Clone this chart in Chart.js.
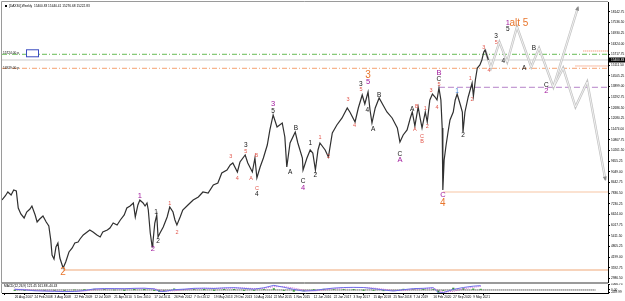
<!DOCTYPE html>
<html>
<head>
<title>DAX30 Weekly</title>
<style>
  body { margin: 0; padding: 0; background: #ffffff; }
  #wrap { position: relative; width: 625px; height: 301px; background: #ffffff; overflow: hidden; }
  #main { position: absolute; left: 0; top: 0; }
  #macd { position: absolute; left: 0; top: 283px; }
</style>
</head>
<body>
<div id="wrap">
  <canvas id="main" width="625" height="283" style="width:625px;height:283px"></canvas>
  <canvas id="macd" width="625" height="18" style="width:625px;height:18px"></canvas>
</div>
<script src="https://cdn.jsdelivr.net/npm/chart.js"></script>
<script>
// weekly bar index (0 = 26 Aug 2007) and price
var priceWeek = [
  0,5,9,14,18,22,25,29,34,38,
  43,46,51,54,58,63,68,72,75,77,
  80,83,86,89,94,98,103,108,112,117,
  120,125,131,135,140,146,151,155,162,166,
  171,177,182,188,192,197,202,205,209,212,
  217,220,223,225,228,231,232,235,238,240,
  243,248,254,258,263,266,269,274,278,286,
  294,302,309,317,325,332,338,346,351,355,
  362,366,374,378,385,389,392,397,402,408,
  412,417,423,431,435,438,443,451,455,462,
  463,469,474,478,482,486,489,497,502,508,
  515,523,531,535,543,548,554,558,563,566,
  569,574,580,586,592,600,608,612,617,623,
  628,631,635,640,643,646,651,654,658,662,
  666,669,672,675,677,678,680,683,686,689,
  694,697,700,705,708,709,712,717,720,723,
  725,728,731,735,738,741,743,746,748
];
var priceValue = [
  7450,7677,7904,7734,8018,7961,6995,6655,6428,6768,
  6939,7109,6598,6200,6371,6541,6200,5973,5178,4326,
  4099,4781,5008,4156,3588,3929,4497,4724,5008,5065,
  5235,5462,5632,5746,5632,5462,5349,5632,5746,5860,
  6144,6030,6314,6598,6995,7109,7279,6484,7166,7450,
  7279,7109,7279,6882,5576,4781,5008,6144,6598,5349,
  5576,5916,6484,7052,6768,6314,6030,6484,6882,7166,
  7450,7620,7904,7847,8302,8415,8983,9153,9437,9551,
  9040,9608,10005,9551,9040,9835,8699,9324,9835,10573,
  11425,12277,11595,11823,11027,9324,10687,11311,10687,9835,
  9153,9835,10289,10119,9153,10289,10687,10289,9892,11255,
  11709,12107,12674,12447,11879,12674,13413,12902,13583,12561,
  11823,12674,13242,12845,12447,12107,11539,10744,11141,11425,
  12107,12447,11652,12731,12107,11539,12447,11879,13129,13469,
  13299,13129,13810,13129,11539,8018,9721,10573,11311,11993,
  12447,13129,13469,12845,12447,11311,12447,13299,13697,14094,
  13356,14265,14946,15116,15400,15855,15968,15627,15400
];

// projected paths (main count and alternative)
var projWeek = [743, 752, 765, 777, 792, 814, 826, 848, 886];
var projValue = [15968, 14946, 16423, 15287, 17274, 15003, 16082, 13867, 18410];
var altWeek = [848, 863, 882, 900, 928];
var altValue = [13867, 14946, 12731, 14151, 8586];

// horizontal levels: value and first week
var levelValue = [15724, 15400, 14929, 13850, 7904, 3474, 15911, 15060];
var levelStart = [0, 0, 0, 672, 678, 94, 894, 882];

// wave labels
var waveText = ['2','1','2','1','2','1','2','3','4','3','5','A','B','C','4','3','5','A','B','C','4','1','2','1','2','3','4','3','5','4','3','5','A','B','C','A','A','B','A','C','B','1','2','3','4','5','C','B','C','4','1','2','1','2','3','4','3','5','4','1','5','alt 5','A','B','C','2'];
var waveWeek = [94,212,232,237,240,258,269,352,362,375,375,383,391,392,392,417,417,443,452,463,463,474,482,489,502,532,542,552,552,562,563,563,571,580,612,612,631,638,635,646,646,651,654,660,669,672,672,672,678,678,700,709,720,723,741,749,760,760,771,778,778,795,803,818,837,837];
var wavePrice = [3361,7677,4667,6768,5121,7279,5632,9892,8699,10573,10176,8699,10005,8131,7790,12902,12504,9040,11539,8529,8131,10687,8869,11027,9892,13129,11709,14037,13753,12561,14548,14151,11482,13413,10062,9721,12617,12788,11482,11084,10800,12674,11652,13640,12731,14037,14321,14662,7734,7279,13640,11141,14378,13185,16082,14832,16763,16366,15344,17502,17161,17502,14946,16082,13981,13640];
var waveKind = ['o','p','p','k','k','r','r','r','r','k','r','r','r','r','k','p','k','k','k','k','p','k','k','r','r','r','r','k','r','k','o','p','k','k','k','p','k','r','r','r','r','r','r','r','r','r','k','p','p','o','b','k','r','r','r','r','k','r','k','p','k','o','k','k','k','p'];

// price axis labels
var yTicks = [18142.75,17536.50,16930.25,16324.00,15717.75,15111.50,14505.25,13899.00,13292.75,12686.50,12080.25,11474.00,10867.75,10261.50,9655.25,9049.00,8442.75,7836.50,7230.25,6624.00,6017.75,5411.50,4805.25,4199.00,3592.75,2986.50];

// date axis labels
var dateWeek = [0,32,64,96,128,160,192,224,256,288,320,352,384,416,448,480,512,544,576,608,640,672,704,736];
var dateLabels = ['26 Aug 2007','24 Feb 2008','3 Aug 2008','22 Feb 2009','12 Jul 2009','21 Apr 2010','5 Dec 2010','17 Jul 2011','26 Feb 2012','7 Oct 2012','19 May 2013','29 Dec 2013','10 Aug 2014','22 Mar 2015','1 Nov 2015','12 Jun 2016','22 Jan 2017','3 Sep 2017','15 Apr 2018','25 Nov 2018','7 Jul 2019','16 Feb 2020','27 Sep 2020','9 May 2021'];

// MACD panel
var macdWeek = [0,16,32,48,64,80,96,112,128,144,160,176,192,208,224,232,240,256,272,288,304,320,336,352,368,384,400,416,432,448,464,480,496,512,528,544,560,576,592,608,624,640,656,672,680,688,704,720,736,748];
var macdMain = [120,20,-150,-200,-250,-300,-280,-100,200,260,250,230,300,320,200,-250,-280,50,150,300,330,280,380,420,300,150,400,850,500,100,-220,-100,150,350,450,480,450,250,0,-200,50,250,300,420,-520,-480,100,450,700,800];
var macdSignal = [150,100,-50,-150,-200,-260,-280,-200,50,200,250,240,270,300,260,0,-200,-150,50,220,300,300,320,380,360,250,300,600,620,350,-50,-200,0,250,380,450,460,350,150,-100,-100,120,250,350,-100,-400,-250,200,500,650];
var macdHist = [-30,-80,-100,-50,-50,-40,0,100,150,60,0,-10,30,20,-60,-250,-80,200,100,80,30,-20,60,40,-60,-100,100,250,-120,-250,-170,100,150,100,70,30,-10,-100,-150,-100,150,130,50,70,-420,-80,350,250,200,150];
var macdTicks = [1066.75, 0.00, -439.99];

var xMax = 932;
var yMin = 2736, yMax = 18693;

var waveStyles = {
  k: { color: '#151515', size: 6.5 },
  r: { color: '#e2574c', size: 5.5 },
  p: { color: '#a0189c', size: 7.5 },
  o: { color: '#e8762d', size: 10 },
  b: { color: '#3b7fd9', size: 6.5 }
};
var levelStyles = [
  { color: '#66bb55', dash: [5, 2, 1, 2], width: 1 },
  { color: '#cccccc', dash: [], width: 1 },
  { color: '#f4a070', dash: [5, 2, 1, 2], width: 1 },
  { color: '#b583c8', dash: [6, 3], width: 1 },
  { color: '#f7c6a4', dash: [], width: 1.2 },
  { color: '#f0a878', dash: [], width: 1.2 },
  { color: '#f07a4a', dash: [1, 1], width: 1 },
  { color: '#f07a4a', dash: [1, 1], width: 1 }
];

function pts(xs, ys) {
  var out = [];
  for (var i = 0; i < xs.length; i++) out.push({ x: xs[i], y: ys[i] });
  return out;
}

var datasets = [];
datasets.push({ data: pts(priceWeek, priceValue), borderColor: '#303030', borderWidth: 1.2, pointRadius: 0, tension: 0 });
// projection drawn as light double line
datasets.push({ data: pts(projWeek, projValue), borderColor: '#fbfbfb', borderWidth: 0.8, pointRadius: 0 });
datasets.push({ data: pts(altWeek, altValue), borderColor: '#fbfbfb', borderWidth: 0.8, pointRadius: 0 });
datasets.push({ data: pts(projWeek, projValue), borderColor: '#c4c4c4', borderWidth: 2.4, pointRadius: 0 });
datasets.push({ data: pts(altWeek, altValue), borderColor: '#c4c4c4', borderWidth: 2.4, pointRadius: 0 });
for (var i = 0; i < levelValue.length; i++) {
  datasets.push({
    data: [{ x: levelStart[i], y: levelValue[i] }, { x: xMax, y: levelValue[i] }],
    borderColor: levelStyles[i].color, borderDash: levelStyles[i].dash,
    borderWidth: levelStyles[i].width, pointRadius: 0
  });
}

function arrowHead(ctx, xs, ys, xsc, ysc) {
  var n = xs.length;
  var x1 = xsc.getPixelForValue(xs[n - 2]), y1 = ysc.getPixelForValue(ys[n - 2]);
  var x2 = xsc.getPixelForValue(xs[n - 1]), y2 = ysc.getPixelForValue(ys[n - 1]);
  var a = Math.atan2(y2 - y1, x2 - x1);
  ctx.save();
  ctx.translate(x2, y2);
  ctx.rotate(a);
  ctx.fillStyle = '#8a8a8a';
  ctx.beginPath();
  ctx.moveTo(1, 0);
  ctx.lineTo(-3.5, -2);
  ctx.lineTo(-3.5, 2);
  ctx.closePath();
  ctx.fill();
  ctx.restore();
}

var mainOverlay = {
  id: 'mainOverlay',
  afterDraw: function(chart) {
    var ctx = chart.ctx, a = chart.chartArea;
    var xs = chart.scales.x, ys = chart.scales.y;
    ctx.save();
    // frame
    ctx.strokeStyle = '#9a9a9a';
    ctx.lineWidth = 1;
    ctx.beginPath();
    ctx.moveTo(a.left - 0.5, a.bottom + 0.5);
    ctx.lineTo(a.left - 0.5, a.top - 0.5);
    ctx.lineTo(a.right, a.top - 0.5);
    ctx.moveTo(a.left - 0.5, a.bottom - 0.5);
    ctx.lineTo(a.right, a.bottom - 0.5);
    ctx.stroke();

    arrowHead(ctx, projWeek, projValue, xs, ys);
    arrowHead(ctx, altWeek, altValue, xs, ys);

    // wave labels
    ctx.textAlign = 'center';
    ctx.textBaseline = 'middle';
    for (var i = 0; i < waveText.length; i++) {
      var st = waveStyles[waveKind[i]];
      ctx.font = st.size + 'px "Liberation Sans", Arial, sans-serif';
      ctx.fillStyle = st.color;
      ctx.fillText(waveText[i], xs.getPixelForValue(waveWeek[i]), ys.getPixelForValue(wavePrice[i]));
    }

    // title
    ctx.textAlign = 'left';
    ctx.textBaseline = 'middle';
    ctx.fillStyle = '#000';
    ctx.fillRect(a.left + 3, a.top + 3, 2, 2);
    ctx.font = '3.2px "Liberation Sans", Arial, sans-serif';
    ctx.fillText('[DAX30],Weekly  15400.83 15440.41 15276.68 15222.83', a.left + 7, a.top + 4);

    // level captions on the left
    var gy = ys.getPixelForValue(levelValue[0]);
    ctx.fillText(levelValue[0].toFixed(2) + ' p', a.left + 1, gy - 1.5);
    ctx.strokeStyle = '#3a4cc0';
    ctx.fillStyle = '#ffffff';
    ctx.lineWidth = 1;
    ctx.fillRect(a.left + 24.5, gy - 4.5, 12, 7);
    ctx.strokeRect(a.left + 24.5, gy - 4.5, 12, 7);
    ctx.fillStyle = '#000';
    var oy = ys.getPixelForValue(levelValue[2]);
    ctx.fillText(levelValue[2].toFixed(2) + ' p', a.left + 1, oy - 0.5);

    // current price tag on the axis
    var by = ys.getPixelForValue(levelValue[1]);
    ctx.fillStyle = '#000';
    ctx.fillRect(a.right + 1, by - 2.5, 17, 5);
    ctx.fillStyle = '#fff';
    ctx.fillText('15400.83', a.right + 3, by);
    ctx.restore();
  }
};

new Chart(document.getElementById('main').getContext('2d'), {
  type: 'line',
  data: { datasets: datasets },
  options: {
    responsive: false,
    animation: false,
    layout: { padding: { top: 2, left: 2, right: 0, bottom: 0 } },
    plugins: { legend: { display: false }, tooltip: { enabled: false } },
    scales: {
      x: { type: 'linear', min: 0, max: xMax, display: false },
      y: {
        type: 'linear', position: 'right', min: yMin, max: yMax,
        border: { color: '#000', width: 1 },
        grid: { drawOnChartArea: false, drawTicks: true, tickLength: 2, color: '#000' },
        ticks: {
          font: { size: 3.2, family: '"Liberation Sans", Arial, sans-serif' },
          color: '#000', padding: 1, autoSkip: false,
          callback: function(v) { return Number(v).toFixed(2); }
        },
        afterBuildTicks: function(s) { s.ticks = yTicks.map(function(v) { return { value: v }; }); },
        afterFit: function(s) { s.width = 17; s.paddingTop = 0; s.paddingBottom = 0; }
      }
    }
  },
  plugins: [mainOverlay]
});

var macdOverlay = {
  id: 'macdOverlay',
  afterDraw: function(chart) {
    var ctx = chart.ctx, a = chart.chartArea;
    ctx.save();
    ctx.strokeStyle = '#9a9a9a';
    ctx.lineWidth = 1;
    ctx.beginPath();
    ctx.moveTo(a.left - 0.5, a.bottom);
    ctx.lineTo(a.left - 0.5, a.top - 0.5);
    ctx.lineTo(a.right, a.top - 0.5);
    ctx.stroke();
    ctx.fillStyle = '#000';
    ctx.font = '3.2px "Liberation Sans", Arial, sans-serif';
    ctx.textBaseline = 'middle';
    ctx.fillText('MACD(12,26,9) 121.45 161.88 -40.43', a.left + 2, a.top + 2);
    ctx.restore();
  }
};

new Chart(document.getElementById('macd').getContext('2d'), {
  type: 'line',
  data: {
    datasets: [
      { data: pts(macdWeek, macdMain), borderColor: '#6f6fe8', borderWidth: 1, pointRadius: 0 },
      { data: pts(macdWeek, macdSignal), borderColor: '#d36ad8', borderWidth: 1, borderDash: [1, 1], pointRadius: 0 },
      { type: 'bar', data: pts(macdWeek, macdHist), backgroundColor: '#2f9a2f', barThickness: 1.5 },
      { data: [{ x: 0, y: 0 }, { x: xMax, y: 0 }], borderColor: '#000', borderWidth: 1, borderDash: [1, 1], pointRadius: 0 }
    ]
  },
  options: {
    responsive: false,
    animation: false,
    layout: { padding: { top: 1, left: 2, right: 0, bottom: 0 } },
    plugins: { legend: { display: false }, tooltip: { enabled: false } },
    scales: {
      x: {
        type: 'linear', min: 0, max: xMax,
        border: { color: '#000', width: 1 },
        grid: { drawOnChartArea: false, drawTicks: true, tickLength: 2, color: '#000' },
        ticks: {
          font: { size: 3.2, family: '"Liberation Sans", Arial, sans-serif' },
          color: '#000', padding: 0, align: 'start', autoSkip: false, maxRotation: 0,
          callback: function(v, i) { return dateLabels[i]; }
        },
        afterBuildTicks: function(s) { s.ticks = dateWeek.map(function(v) { return { value: v }; }); },
        afterFit: function(s) { s.height = 8; s.paddingLeft = 0; s.paddingRight = 0; }
      },
      y: {
        type: 'linear', position: 'right', min: -560, max: 1100,
        border: { color: '#000', width: 1 },
        grid: { drawOnChartArea: false, drawTicks: true, tickLength: 2, color: '#000' },
        ticks: {
          font: { size: 3.2, family: '"Liberation Sans", Arial, sans-serif' },
          color: '#000', padding: 1, autoSkip: false,
          callback: function(v) { return Number(v).toFixed(2); }
        },
        afterBuildTicks: function(s) { s.ticks = macdTicks.map(function(v) { return { value: v }; }); },
        afterFit: function(s) { s.width = 17; s.paddingTop = 0; s.paddingBottom = 0; }
      }
    }
  },
  plugins: [macdOverlay]
});
</script>
</body>
</html>
